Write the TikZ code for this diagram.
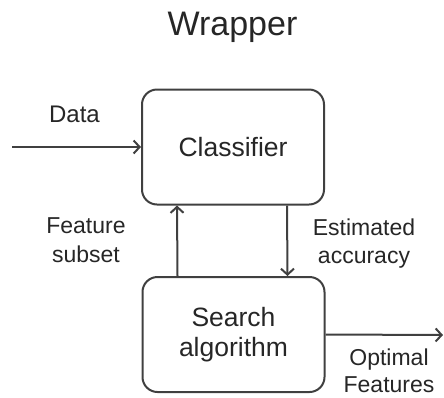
\documentclass[tikz,border=0pt]{standalone}
\usepackage{fontspec}
\setmainfont{Liberation Sans}
\usetikzlibrary{arrows.meta}
\definecolor{ln}{HTML}{404040}
\definecolor{tx}{HTML}{262626}
\begin{document}
\begin{tikzpicture}[x=1pt,y=-1pt,
  box/.style={draw=ln,line width=2pt,rounded corners=15pt,minimum width=182pt,minimum height=115pt,inner sep=0pt,align=center,text=tx,font=\fontsize{26.5}{30}\selectfont},
  lbl/.style={inner sep=0pt,anchor=base,align=center,text=tx,font=\fontsize{23}{28}\selectfont},
  conn/.style={draw=ln,line width=2pt,-{Straight Barb[length=6pt,width=13pt,line width=2pt]}}]
\useasboundingbox (0,0) rectangle (444,397);
\node[inner sep=0pt,anchor=base,text=tx,font=\fontsize{34}{40}\selectfont] (title) at (232.5,35) {Wrapper};
\node[box] (cls) at (233,147) {Classifier};
\node[box] (srch) at (233.5,334.5) {Search\\algorithm};
\coordinate (din) at (12,147);
\coordinate (dout) at (443,335);
\draw[conn] (din) -- (cls.west);
\draw[conn] ([xshift=36pt]srch.north west) -- ([xshift=36pt]cls.south west);
\draw[conn] ([xshift=146pt]cls.south west) -- ([xshift=146pt]srch.north west);
\draw[conn] (srch.east) -- (dout);
\node[lbl,font=\fontsize{24}{28}\selectfont] (data) at (74.5,122) {Data};
\node[lbl,font=\fontsize{23}{29}\selectfont] (fs) at (86,262) {Feature\\subset};
\node[lbl] (ea) at (364,263) {Estimated\\accuracy};
\node[lbl,font=\fontsize{23}{27}\selectfont] (of) at (389,392) {Optimal\\Features};
\end{tikzpicture}
\end{document}
